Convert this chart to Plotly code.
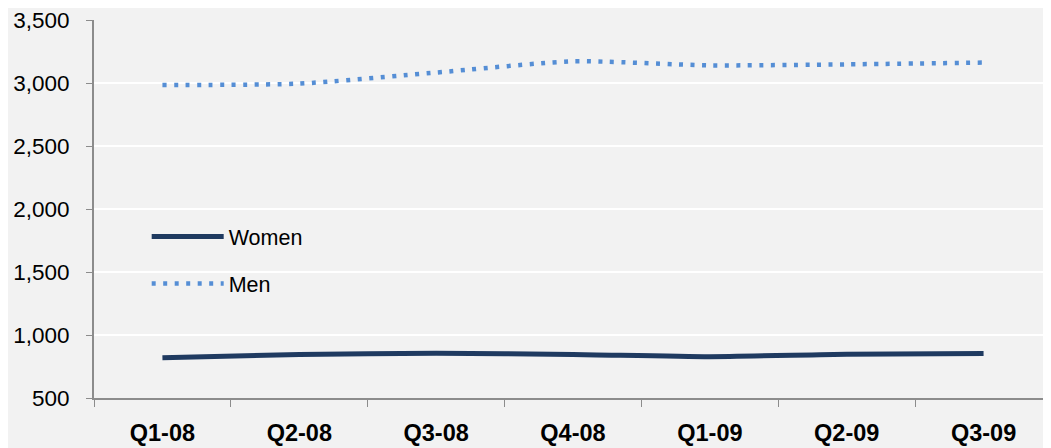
import plotly.graph_objects as go

# quarters and head counts
quarters = ["Q1-08", "Q2-08", "Q3-08", "Q4-08", "Q1-09", "Q2-09", "Q3-09"]
women = [819, 845, 855, 846, 828, 848, 853]
men = [2984, 2995, 3083, 3172, 3140, 3148, 3162]

fig = go.Figure()

fig.add_trace(go.Scatter(x=quarters, y=women, name="Women", mode="lines", legendgroup="w",
                         line=dict(color="#1F3A60", width=5, shape="spline", smoothing=0.6)))
fig.add_trace(go.Scatter(x=quarters, y=men, name="Men", mode="lines", legendgroup="m",
                         line=dict(color="#558ED5", width=4.5, dash="4px,7.5px",
                                   shape="spline", smoothing=0.6)))

fig.update_layout(
    width=1051, height=448,
    margin=dict(l=86, r=7, t=12, b=58, autoexpand=False),
    paper_bgcolor="#F2F2F2", plot_bgcolor="#F2F2F2",
    font=dict(family="Liberation Sans, Arial, sans-serif", color="#000000"),
    showlegend=True,
    legend=dict(x=0.055, y=0.365, xanchor="left", yanchor="middle",
                bgcolor="rgba(0,0,0,0)", font=dict(size=21.5),
                itemwidth=72, tracegroupgap=16),
)

fig.update_xaxes(
    type="category", range=[-0.5, 6.5],
    showgrid=False, showline=True, linecolor="#8C8C8C", linewidth=2,
    ticks="outside", tickson="boundaries", ticklen=7, tickcolor="#8C8C8C",
    tickfont=dict(size=23.5, family="Liberation Sans, Arial, sans-serif", weight="bold"),
    ticklabelstandoff=13, ticklabeloverflow="allow",
)
fig.update_yaxes(
    range=[500, 3500], dtick=500, tickformat=",",
    showgrid=True, gridcolor="#FFFFFF", gridwidth=2,
    showline=True, linecolor="#8C8C8C", linewidth=2,
    ticks="outside", ticklen=6, tickcolor="#8C8C8C",
    tickfont=dict(size=22.5), zeroline=False,
    ticklabelstandoff=12, ticklabeloverflow="allow",
)

fig.write_html("out.html")
